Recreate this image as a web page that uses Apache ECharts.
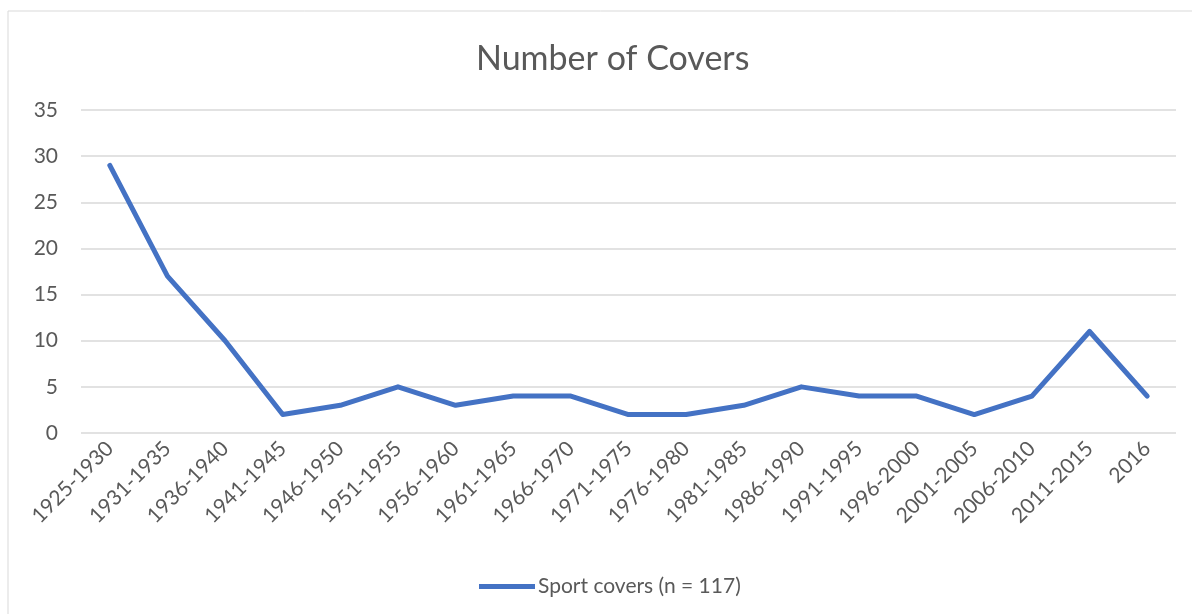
<!DOCTYPE html>
<html>
<head>
<meta charset="utf-8">
<script src="https://cdn.jsdelivr.net/npm/echarts@6/dist/echarts.min.js"></script>
<style>
html,body{margin:0;padding:0;background:#fff;}
#chart{width:1192px;height:614px;}
</style>
</head>
<body>
<div id="chart"></div>
<script>
const categories = ["1925-1930","1931-1935","1936-1940","1941-1945","1946-1950","1951-1955","1956-1960","1961-1965","1966-1970","1971-1975","1976-1980","1981-1985","1986-1990","1991-1995","1996-2000","2001-2005","2006-2010","2011-2015","2016"];
const sportCovers = [29,17,10,2,3,5,3,4,4,2,2,3,5,4,4,2,4,11,4];
const seriesName = "Sport covers (n = 117)";
const chartTitle = "Number of Covers";

const FONT = "Lato, 'Open Sans', sans-serif";
const chart = echarts.init(document.getElementById('chart'));
chart.setOption({
  animation: false,
  backgroundColor: '#fff',
  graphic: [{
    type: 'rect', shape: {x: 8, y: 11, width: 1200, height: 620},
    style: {fill: 'none', stroke: '#d9d9d9', lineWidth: 1}, silent: true
  }],
  title: {
    text: chartTitle, left: 471, top: 37,
    textStyle: {fontFamily: FONT, fontSize: 34, fontWeight: 'normal', color: '#595959'}
  },
  legend: {
    top: 571, left: 474,
    itemWidth: 56, itemHeight: 5, itemGap: 10,
    textStyle: {fontFamily: FONT, fontSize: 21, color: '#595959', padding: [0,0,0,-2]},
    data: [{name: seriesName, icon: 'path://M0,0 L56,0 L56,5 L0,5 Z'}]
  },
  grid: {left: 81, right: 16, top: 110, bottom: 181, containLabel: false},
  xAxis: {
    type: 'category', data: categories, boundaryGap: true,
    axisLine: {show: false}, axisTick: {show: false},
    axisLabel: {rotate: 45, interval: 0, margin: 12, fontFamily: FONT, fontSize: 21, color: '#595959'}
  },
  yAxis: {
    type: 'value', min: 0, max: 35, interval: 5,
    axisLine: {show: false}, axisTick: {show: false},
    axisLabel: {margin: 23, fontFamily: FONT, fontSize: 21, color: '#595959'},
    splitLine: {lineStyle: {color: '#d9d9d9', width: 1.5}}
  },
  series: [{
    name: seriesName, type: 'line', data: sportCovers,
    showSymbol: false, symbol: 'none',
    lineStyle: {color: '#4472C4', width: 5, cap: 'round', join: 'round'},
    itemStyle: {color: '#4472C4'}
  }]
});
</script>
</body>
</html>
